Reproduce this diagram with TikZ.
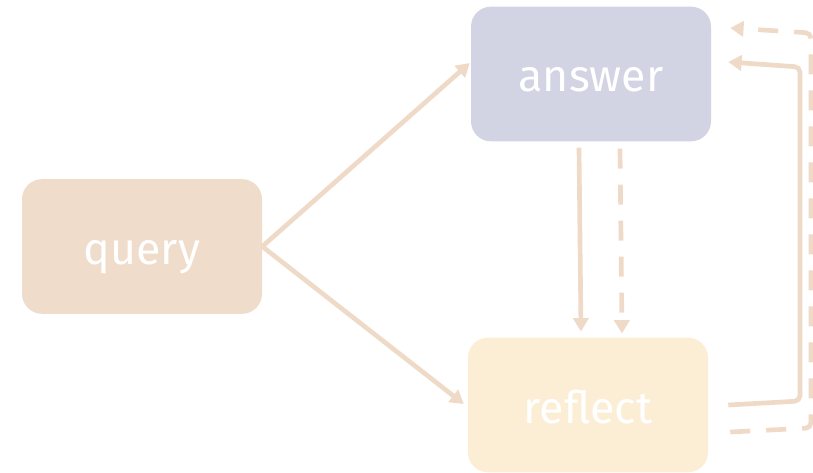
\documentclass[tikz,border=0pt]{standalone}
\usepackage{fontspec}
\setmainfont{Fira Sans}
\usetikzlibrary{calc,arrows.meta,positioning}

\definecolor{queryfill}{HTML}{F0DCCB}
\definecolor{answerfill}{HTML}{D2D3E3}
\definecolor{reflectfill}{HTML}{FCEED5}
\definecolor{flowline}{HTML}{EFDAC8}

\tikzset{
  stepbox/.style={rectangle,rounded corners=15pt,minimum width=180pt,minimum height=101pt,
    text=white,font=\fontsize{33.5}{40}\selectfont,text depth=0pt,text height=27pt},
  flow/.style={draw=flowline,line width=3.5pt,-{Triangle[length=10pt,width=11.5pt]}},
  flowdash/.style={flow,dash pattern=on 15pt off 12pt},
}

\begin{document}
\begin{tikzpicture}[x=0.75pt,y=-0.75pt]
\useasboundingbox (0,0) rectangle (813,473);
% ---- boxes ----
\node[stepbox,fill=queryfill] (query) at (142,246.5) {query};
\node[stepbox,fill=answerfill] (answer) at (591,74) {answer};
\node[stepbox,fill=reflectfill] (reflect) at (588,405) {reflect};
% ---- query fans out ----
\draw[flow] (query.east) -- ($(answer.west)+(-1,-11)$);
\draw[flow] (query.east) -- ($(reflect.west)+(-4,-1)$);
% ---- answer down to reflect ----
\draw[flow] ($(answer.south)+(-12,6)$) -- ($(reflect.north)+(-7,-6)$);
\draw[flowdash] ($(answer.south)+(29,7)$) -- ($(reflect.north)+(34,-4)$);
% ---- loops back ----
\draw[flow,rounded corners=4pt] ($(reflect.east)+(20,0)$) -- (800,401) -- (800,67)
  -- ($(answer.east)+(17,-12)$);
\draw[flowdash,rounded corners=4pt] ($(reflect.east)+(22,27)$) -- (811,428) -- (811,33)
  -- ($(answer.east)+(19,-46)$);
\end{tikzpicture}
\end{document}
